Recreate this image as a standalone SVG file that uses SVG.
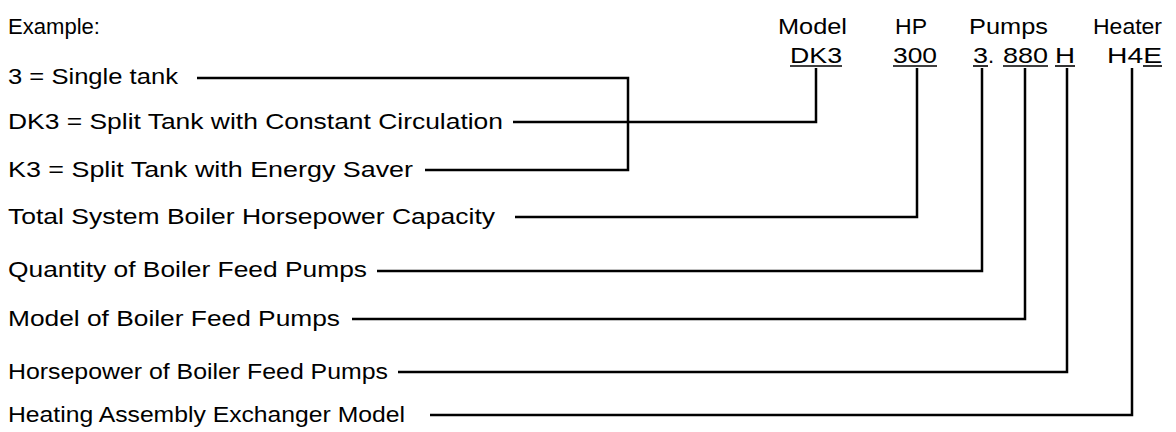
<svg xmlns="http://www.w3.org/2000/svg" width="1176" height="432" viewBox="0 0 1176 432">
<style>
text{font-family:"Liberation Sans",Arial,sans-serif;font-size:22px;fill:#000}
.c{fill:none;stroke:#000;stroke-width:2.5;stroke-linecap:butt;stroke-linejoin:miter}
.u{stroke:#000;stroke-width:1.6}
</style>
<rect width="1176" height="432" fill="#fff"/>
<g id="header">
<text x="8" y="34" textLength="92" lengthAdjust="spacingAndGlyphs">Example:</text>
<text x="778" y="34" textLength="69" lengthAdjust="spacingAndGlyphs">Model</text>
<text x="895" y="34" textLength="32" lengthAdjust="spacingAndGlyphs">HP</text>
<text x="969" y="34" textLength="79" lengthAdjust="spacingAndGlyphs">Pumps</text>
<text x="1093" y="34" textLength="69" lengthAdjust="spacingAndGlyphs">Heater</text>
</g>
<g id="code">
<text x="790" y="63" textLength="52" lengthAdjust="spacingAndGlyphs">DK3</text>
<text x="893" y="63" textLength="44" lengthAdjust="spacingAndGlyphs">300</text>
<text x="973" y="63" textLength="15" lengthAdjust="spacingAndGlyphs">3</text>
<text x="988" y="63">.</text>
<text x="1003" y="63" textLength="45" lengthAdjust="spacingAndGlyphs">880</text>
<text x="1055" y="63" textLength="20" lengthAdjust="spacingAndGlyphs">H</text>
<text x="1107" y="63" textLength="55" lengthAdjust="spacingAndGlyphs">H4E</text>
<line class="u" x1="790" y1="66" x2="842" y2="66"/>
<line class="u" x1="893" y1="66" x2="937" y2="66"/>
<line class="u" x1="973" y1="66" x2="988" y2="66"/>
<line class="u" x1="1003" y1="66" x2="1048" y2="66"/>
<line class="u" x1="1055" y1="66" x2="1075" y2="66"/>
<line class="u" x1="1143" y1="66" x2="1162" y2="66"/>
</g>
<g id="n-single"><text x="8" y="84" textLength="170" lengthAdjust="spacingAndGlyphs">3 = Single tank</text></g>
<g id="n-dk3"><text x="8" y="129" textLength="495" lengthAdjust="spacingAndGlyphs">DK3 = Split Tank with Constant Circulation</text></g>
<g id="n-k3"><text x="8" y="177" textLength="405" lengthAdjust="spacingAndGlyphs">K3 = Split Tank with Energy Saver</text></g>
<g id="n-total"><text x="8" y="224" textLength="487" lengthAdjust="spacingAndGlyphs">Total System Boiler Horsepower Capacity</text></g>
<g id="n-qty"><text x="8" y="277" textLength="359" lengthAdjust="spacingAndGlyphs">Quantity of Boiler Feed Pumps</text></g>
<g id="n-model"><text x="8" y="326" textLength="332" lengthAdjust="spacingAndGlyphs">Model of Boiler Feed Pumps</text></g>
<g id="n-hp"><text x="8" y="379" textLength="380" lengthAdjust="spacingAndGlyphs">Horsepower of Boiler Feed Pumps</text></g>
<g id="n-heat"><text x="8" y="422" textLength="397" lengthAdjust="spacingAndGlyphs">Heating Assembly Exchanger Model</text></g>
<g id="connectors">
<polyline class="c" points="197,78 628,78 628,170 425,170"/>
<polyline class="c" points="513,122 816,122 816,68"/>
<polyline class="c" points="515,217 917,217 917,68"/>
<polyline class="c" points="377,271 982,271 982,68"/>
<polyline class="c" points="352,319 1025,319 1025,68"/>
<polyline class="c" points="398,372 1067,372 1067,68"/>
<polyline class="c" points="430,415 1132,415 1132,68"/>
</g>
</svg>
